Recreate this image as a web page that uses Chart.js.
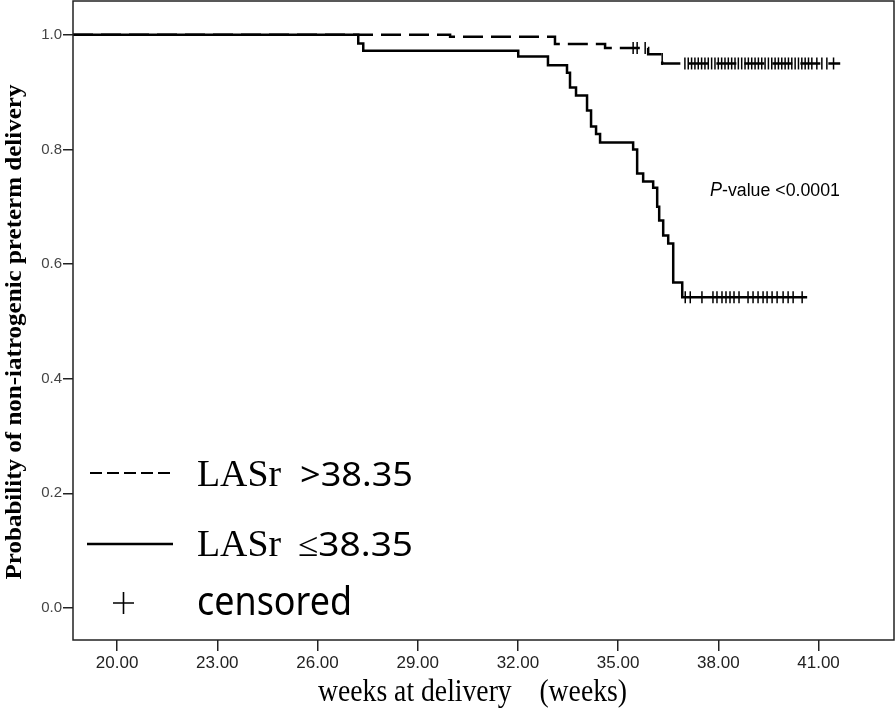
<!DOCTYPE html>
<html>
<head>
<meta charset="utf-8">
<script src="https://cdn.jsdelivr.net/npm/chart.js@4.4.1/dist/chart.umd.min.js"></script>
<style>
  html, body { margin: 0; padding: 0; background: #ffffff; }
  #wrap { width: 896px; height: 716px; }
</style>
</head>
<body>
<div id="wrap"><canvas id="chart" width="896" height="716"></canvas></div>
<script>
// x axis range and ticks (weeks)
const X_MIN = 18.68;
const X_MAX = 43.26;
const X_TICKS = [20, 23, 26, 29, 32, 35, 38, 41];
const Y_MIN = -0.056;
const Y_MAX = 1.059;
const Y_TICKS = [0, 0.2, 0.4, 0.6, 0.8, 1.0];

// LASr > 38.35 (dashed) survival steps
const highWeeks = [18.68, 29.97, 33.11, 34.61, 35.90, 36.32, 41.65];
const highProb  = [1.0, 0.9965, 0.984, 0.977, 0.966, 0.950, 0.950];
const highCensorWeeks = [35.45, 35.57, 35.81, 36.32,
  37.0, 37.1, 37.2, 37.3, 37.4, 37.5, 37.6, 37.7, 37.8, 37.9, 38.0, 38.1,
  38.2, 38.3, 38.4, 38.5, 38.6, 38.7, 38.8, 38.9, 39.0, 39.1, 39.2, 39.3,
  39.4, 39.5, 39.6, 39.7, 39.8, 39.9, 40.0, 40.1, 40.2, 40.3, 40.4, 40.5,
  40.6, 40.7, 40.8, 40.95, 41.1, 41.25, 41.45];
const highCensorProb = [0.977, 0.977, 0.977, 0.958,
  0.95, 0.95, 0.95, 0.95, 0.95, 0.95, 0.95, 0.95, 0.95, 0.95, 0.95, 0.95,
  0.95, 0.95, 0.95, 0.95, 0.95, 0.95, 0.95, 0.95, 0.95, 0.95, 0.95, 0.95,
  0.95, 0.95, 0.95, 0.95, 0.95, 0.95, 0.95, 0.95, 0.95, 0.95, 0.95, 0.95,
  0.95, 0.95, 0.95, 0.95, 0.95, 0.95, 0.95];

// LASr <= 38.35 (solid) survival steps
const lowWeeks = [18.68, 27.22, 27.37, 32.01, 32.90, 33.47, 33.56, 33.74, 34.07,
  34.19, 34.34, 34.46, 35.45, 35.57, 35.75, 36.05, 36.17, 36.23, 36.35, 36.50,
  36.65, 36.92, 40.66];
const lowProb = [1.0, 0.985, 0.972, 0.962, 0.947, 0.934, 0.908, 0.894, 0.868,
  0.840, 0.827, 0.812, 0.800, 0.758, 0.744, 0.733, 0.700, 0.676, 0.650, 0.636,
  0.568, 0.542, 0.542];
const lowCensorWeeks = [37.01, 37.16, 37.51, 37.84, 37.96, 38.11, 38.23, 38.35,
  38.47, 38.62, 38.89, 39.04, 39.19, 39.34, 39.46, 39.61, 39.76, 39.94, 40.09,
  40.24, 40.51];
const lowCensorProb = [0.542, 0.542, 0.542, 0.542, 0.542, 0.542, 0.542, 0.542,
  0.542, 0.542, 0.542, 0.542, 0.542, 0.542, 0.542, 0.542, 0.542, 0.542, 0.542,
  0.542, 0.542];

const Y_TITLE = "Probability of non-iatrogenic preterm delivery";
const X_TITLE = "weeks at delivery\u3000(weeks)";
const P_TEXT = "-value <0.0001";

function toPoints(xs, ys) {
  return xs.map((x, i) => ({ x: x, y: ys[i] }));
}

// draw text squeezed/stretched to a given width (and optional height stretch)
function fitText(ctx, text, x, y, width, sy) {
  const w = ctx.measureText(text).width;
  ctx.save();
  ctx.translate(x, y);
  ctx.scale(width / w, sy || 1);
  ctx.fillText(text, 0, 0);
  ctx.restore();
}

const decorPlugin = {
  id: "decor",
  afterDraw(chart) {
    const ctx = chart.ctx;
    const a = chart.chartArea;
    ctx.save();
    // frame
    ctx.strokeStyle = "#222";
    ctx.lineWidth = 1.5;
    ctx.strokeRect(a.left, a.top, a.right - a.left, a.bottom - a.top);

    ctx.fillStyle = "#000";
    ctx.textBaseline = "alphabetic";
    ctx.textAlign = "left";

    // y title
    ctx.save();
    ctx.translate(21, 332);
    ctx.rotate(-Math.PI / 2);
    ctx.font = "bold 22px 'Liberation Serif'";
    const tw = ctx.measureText(Y_TITLE).width;
    ctx.scale(495 / tw, 1.05);
    ctx.fillText(Y_TITLE, -tw / 2, 0);
    ctx.restore();

    // x title
    ctx.font = "27px 'Liberation Serif'";
    fitText(ctx, X_TITLE, 318, 701, 309, 1.2);

    // p-value
    ctx.font = "italic 18px 'Liberation Sans'";
    fitText(ctx, "P", 710, 196, 12, 1.1);
    ctx.font = "16px 'Liberation Sans'";
    fitText(ctx, P_TEXT, 722, 196, 118, 1.15);

    // legend
    ctx.strokeStyle = "#000";
    ctx.lineWidth = 2;
    ctx.setLineDash([12, 5]);
    ctx.beginPath();
    ctx.moveTo(90, 473);
    ctx.lineTo(172, 473);
    ctx.stroke();
    ctx.setLineDash([]);
    ctx.lineWidth = 2.5;
    ctx.beginPath();
    ctx.moveTo(87, 544);
    ctx.lineTo(173, 544);
    ctx.stroke();
    ctx.lineWidth = 1.6;
    ctx.beginPath();
    ctx.moveTo(113, 603);
    ctx.lineTo(134, 603);
    ctx.moveTo(123.5, 592);
    ctx.lineTo(123.5, 614);
    ctx.stroke();

    ctx.font = "35px 'Liberation Serif'";
    fitText(ctx, "LASr", 197, 486, 84, 1.1);
    fitText(ctx, "LASr", 197, 556, 84, 1.1);
    ctx.font = "32px 'Noto Sans'";
    fitText(ctx, ">38.35", 300, 486, 113, 1.05);
    fitText(ctx, "\u226438.35", 298, 556, 115, 1.05);
    ctx.font = "36px 'Noto Sans'";
    fitText(ctx, "censored", 197, 615, 155, 1.1);
    ctx.restore();
  }
};

const config = {
  type: "line",
  data: {
    datasets: [
      {
        label: "LASr >38.35",
        data: toPoints(highWeeks, highProb),
        stepped: "before",
        borderColor: "#000",
        borderWidth: 2.5,
        borderDash: [20, 8],
        pointRadius: 0,
        fill: false,
      },
      {
        label: "LASr \u226438.35",
        data: toPoints(lowWeeks, lowProb),
        stepped: "before",
        borderColor: "#000",
        borderWidth: 2.5,
        pointRadius: 0,
        fill: false,
      },
      {
        label: "censored high",
        data: toPoints(highCensorWeeks, highCensorProb),
        showLine: false,
        pointStyle: "line",
        rotation: 90,
        pointRadius: 6,
        pointBorderWidth: 1.5,
        pointBorderColor: "#000",
      },
      {
        label: "censored low",
        data: toPoints(lowCensorWeeks, lowCensorProb),
        showLine: false,
        pointStyle: "line",
        rotation: 90,
        pointRadius: 6,
        pointBorderWidth: 1.5,
        pointBorderColor: "#000",
      },
    ],
  },
  options: {
    responsive: false,
    animation: false,
    layout: { autoPadding: false, padding: { left: 0, top: 1, right: 2, bottom: 0 } },
    plugins: {
      legend: { display: false },
      tooltip: { enabled: false },
    },
    scales: {
      x: {
        type: "linear",
        min: X_MIN,
        max: X_MAX,
        afterFit: (scale) => {
          scale.height = 76;
          scale.paddingLeft = 0;
          scale.paddingRight = 0;
        },
        afterBuildTicks: (scale) => { scale.ticks = X_TICKS.map((v) => ({ value: v })); },
        grid: { drawOnChartArea: false, drawTicks: true, tickLength: 11, tickColor: "#222", lineWidth: 1.5 },
        border: { display: false },
        ticks: {
          color: "#222",
          font: { family: "'Liberation Sans'", size: 17 },
          padding: 2,
          maxRotation: 0,
          callback: (v) => Number(v).toFixed(2),
        },
      },
      y: {
        type: "linear",
        min: Y_MIN,
        max: Y_MAX,
        afterFit: (scale) => {
          scale.width = 73;
          scale.paddingTop = 0;
          scale.paddingBottom = 0;
        },
        afterBuildTicks: (scale) => { scale.ticks = Y_TICKS.map((v) => ({ value: v })); },
        grid: { drawOnChartArea: false, drawTicks: true, tickLength: 10, tickColor: "#222", lineWidth: 1.5 },
        border: { display: false },
        ticks: {
          color: "#444",
          font: { family: "'Liberation Sans'", size: 15 },
          padding: 1,
          callback: (v) => Number(v).toFixed(1),
        },
      },
    },
  },
  plugins: [decorPlugin],
};

let chart = new Chart(document.getElementById("chart"), config);
</script>
</body>
</html>
